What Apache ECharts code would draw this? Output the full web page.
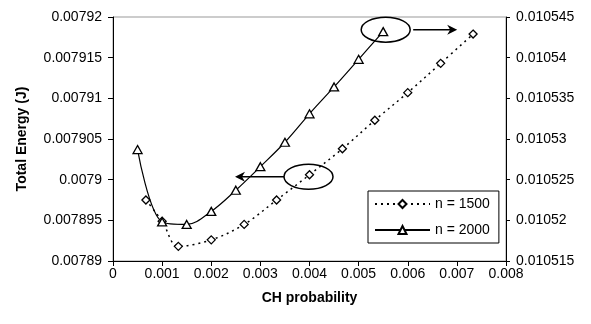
<!DOCTYPE html>
<html><head><meta charset="utf-8">
<script src="https://cdn.jsdelivr.net/npm/echarts@6/dist/echarts.min.js"></script>
<style>html,body{margin:0;padding:0;background:#fff}#c{width:591px;height:324px}</style>
</head><body><div id="c"></div>
<script>
// Tick values
const xTicks = [0, 0.001, 0.002, 0.003, 0.004, 0.005, 0.006, 0.007, 0.008];
const leftTicks = [0.00789, 0.007895, 0.0079, 0.007905, 0.00791, 0.007915, 0.00792];
const rightTicks = [0.010515, 0.01052, 0.010525, 0.01053, 0.010535, 0.01054, 0.010545];

// Series n = 1500 (left axis)
const x1500 = [0.00067, 0.001, 0.00133, 0.002, 0.00267, 0.00333, 0.004, 0.00467, 0.00533, 0.006, 0.00667, 0.00733];
const e1500 = [0.0078975, 0.0078949, 0.0078918, 0.0078926, 0.0078945, 0.0078975, 0.0079006, 0.0079038, 0.0079073, 0.0079107, 0.0079143, 0.0079179];

// Series n = 2000 (right axis)
const x2000 = [0.0005, 0.001, 0.0015, 0.002, 0.0025, 0.003, 0.0035, 0.004, 0.0045, 0.005, 0.0055];
const e2000 = [0.0105287, 0.0105198, 0.0105195, 0.0105211, 0.0105237, 0.0105266, 0.0105296, 0.0105331, 0.0105364, 0.0105398, 0.0105432];

const names = ['n = 1500', 'n = 2000'];

const FONT = "'Liberation Sans', Arial, sans-serif";
const fmt = v => String(+(+v).toPrecision(8));
const step = a => +(a[1] - a[0]).toPrecision(6);

const chart = echarts.init(document.getElementById('c'), null, {renderer: 'canvas'});

const baseY = (ticks) => ({
  type: 'value',
  min: ticks[0], max: ticks[ticks.length - 1], interval: step(ticks),
  splitLine: {show: false}
});

const option = {
  animation: false,
  backgroundColor: '#fff',
  textStyle: {fontFamily: FONT, color: '#000'},
  grid: {left: 113, right: 85, top: 17, bottom: 63, show: true, borderColor: '#999', borderWidth: 1, backgroundColor: 'transparent'},
  xAxis: {
    type: 'value', min: xTicks[0], max: xTicks[xTicks.length - 1], interval: step(xTicks),
    name: 'CH probability', nameLocation: 'middle', nameGap: 30,
    nameTextStyle: {fontFamily: FONT, fontSize: 14, fontWeight: 'bold', color: '#000'},
    axisLine: {onZero: false, lineStyle: {color: '#000', width: 1}},
    axisTick: {inside: false, length: 5, lineStyle: {color: '#000'}},
    axisLabel: {fontFamily: FONT, fontSize: 14, color: '#000', margin: 6, formatter: fmt},
    splitLine: {show: false}
  },
  yAxis: [
    Object.assign(baseY(leftTicks), {
      position: 'left',
      name: 'Total Energy (J)', nameLocation: 'middle', nameGap: 84, nameRotate: 90,
      nameTextStyle: {fontFamily: FONT, fontSize: 14, fontWeight: 'bold', color: '#000'},
      axisLine: {show: true, onZero: false, lineStyle: {color: '#000', width: 1}},
      axisTick: {show: true, inside: false, length: 5, lineStyle: {color: '#000'}},
      axisLabel: {fontFamily: FONT, fontSize: 14, color: '#000', margin: 11, formatter: fmt}
    }),
    Object.assign(baseY(rightTicks), {
      position: 'right',
      axisLine: {show: true, onZero: false, lineStyle: {color: '#000', width: 1}},
      axisTick: {show: true, inside: false, length: 4, lineStyle: {color: '#000'}},
      axisLabel: {fontFamily: FONT, fontSize: 14, color: '#000', margin: 10, formatter: fmt}
    }),
    Object.assign(baseY(rightTicks), {
      position: 'right',
      axisLine: {show: false},
      axisTick: {show: true, inside: true, length: 4, lineStyle: {color: '#000'}},
      axisLabel: {show: false}
    })
  ],
  legend: {
    data: names, orient: 'vertical', left: 368, top: 191,
    padding: [6, 9, 6, 6], itemGap: 12, itemWidth: 55, itemHeight: 10,
    borderColor: '#000', borderWidth: 1, backgroundColor: '#fff',
    textStyle: {fontFamily: FONT, fontSize: 14, color: '#000'},
    selectedMode: false
  },
  series: [
    {
      name: names[0], type: 'line', xAxisIndex: 0, yAxisIndex: 0,
      data: x1500.map((x, i) => [x, e1500[i]]),
      smooth: 0.35, symbol: 'diamond', symbolSize: 8, showAllSymbol: true,
      lineStyle: {color: '#000', width: 1.5, type: [2, 4]},
      itemStyle: {color: '#fff', borderColor: '#000', borderWidth: 1.3},
      z: 2
    },
    {
      name: names[1], type: 'line', xAxisIndex: 0, yAxisIndex: 1,
      data: x2000.map((x, i) => [x, e2000[i]]),
      smooth: 0.35, symbol: 'triangle', symbolSize: [9, 8], showAllSymbol: true,
      lineStyle: {color: '#000', width: 1.2},
      itemStyle: {color: '#fff', borderColor: '#000', borderWidth: 1.3},
      z: 3
    }
  ]
};
chart.setOption(option);

// Annotations: ellipses around an annotated point with arrows toward its axis
const p1 = chart.convertToPixel({seriesIndex: 0}, [x1500[6], e1500[6]]);
const p2 = chart.convertToPixel({seriesIndex: 1}, [x2000[10], e2000[10]]);
const RX = 24.5, RY = 12.5, AL = 49;
function arrowHead(tx, ty, dir) {
  const L = 10, W = 5, N = 3;
  return [[tx, ty], [tx - dir * L, ty - W], [tx - dir * (L - N), ty], [tx - dir * L, ty + W]];
}
const c1 = [p1[0] - 1, p1[1] + 2];
const c2 = [p2[0] + 2.5, p2[1] - 2];
const a1s = c1[0] - RX, a1e = a1s - AL;
const a2s = c2[0] + RX + 3, a2e = a2s + 44;
const stroke = {fill: 'none', stroke: '#000', lineWidth: 1.5};
chart.setOption({
  graphic: [
    {type: 'ellipse', shape: {cx: c1[0], cy: c1[1], rx: RX, ry: RY}, style: stroke, z: 10},
    {type: 'line', shape: {x1: a1s, y1: c1[1], x2: a1e + 6, y2: c1[1]}, style: {stroke: '#000', lineWidth: 1.5}, z: 10},
    {type: 'polygon', shape: {points: arrowHead(a1e, c1[1], -1)}, style: {fill: '#000'}, z: 10},
    {type: 'ellipse', shape: {cx: c2[0], cy: c2[1], rx: RX, ry: RY}, style: stroke, z: 10},
    {type: 'line', shape: {x1: a2s, y1: c2[1], x2: a2e - 6, y2: c2[1]}, style: {stroke: '#000', lineWidth: 1.5}, z: 10},
    {type: 'polygon', shape: {points: arrowHead(a2e, c2[1], 1)}, style: {fill: '#000'}, z: 10}
  ]
});
</script></body></html>
